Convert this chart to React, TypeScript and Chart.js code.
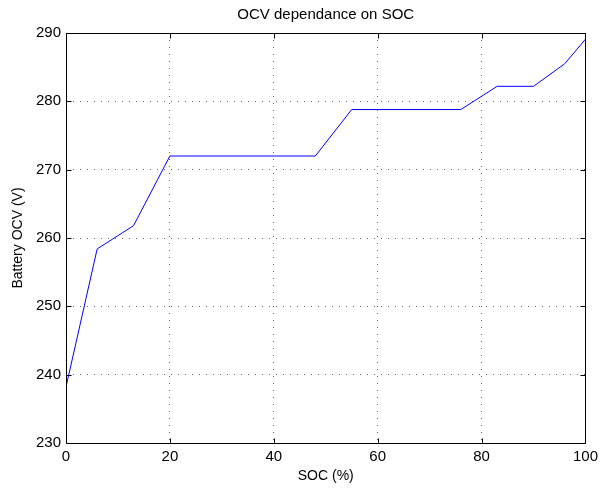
import React, { useEffect, useRef } from "react";
import { Chart, registerables } from "chart.js";

Chart.register(...registerables);

const socValues = [0, 6, 13, 20, 48, 55, 76, 83, 90, 96, 100];
const ocvValues = [238.2, 258.4, 261.8, 272.0, 272.0, 278.8, 278.8, 282.2, 282.2, 285.5, 289.1];
const xTicks = [0, 20, 40, 60, 80, 100];
const yTicks = [230, 240, 250, 260, 270, 280, 290];
const chartTitle = "OCV dependance on SOC";

const FONT = "'Liberation Sans', Arial, Helvetica, sans-serif";

const boxPlugin = {
  id: "matlabBox",
  afterDraw(chart: any) {
    const { ctx, chartArea } = chart;
    const { left, right, top, bottom } = chartArea;
    const xs = chart.scales.x;
    const ys = chart.scales.y;
    ctx.save();
    ctx.strokeStyle = "#000";
    ctx.lineWidth = 1;
    ctx.setLineDash([]);
    ctx.beginPath();
    const L = Math.round(left) + 0.5, R = Math.round(right) + 0.5, T = Math.round(top) + 0.5, B = Math.round(bottom) + 0.5;
    ctx.rect(L, T, R - L, B - T);
    const tl = 5;
    xTicks.forEach((v) => {
      const px = Math.round(xs.getPixelForValue(v)) + 0.5;
      ctx.moveTo(px, B); ctx.lineTo(px, B - tl);
      ctx.moveTo(px, T); ctx.lineTo(px, T + tl);
    });
    yTicks.forEach((v) => {
      const py = Math.round(ys.getPixelForValue(v)) + 0.5;
      ctx.moveTo(L, py); ctx.lineTo(L + tl, py);
      ctx.moveTo(R, py); ctx.lineTo(R - tl, py);
    });
    ctx.stroke();
    ctx.fillStyle = "#000";
    ctx.font = `15px ${FONT}`;
    ctx.textAlign = "center";
    ctx.textBaseline = "middle";
    ctx.fillText(chartTitle, (left + right) / 2, 15);
    ctx.restore();
  },
};

export default function App() {
  const ref = useRef<HTMLCanvasElement | null>(null);
  useEffect(() => {
    if (!ref.current) return;
    const gridColor = (edgeA: number, edgeB: number) => (c: any) =>
      c.tick && (c.tick.value === edgeA || c.tick.value === edgeB) ? "rgba(0,0,0,0)" : "rgba(0,0,0,0.6)";
    const chart = new Chart(ref.current, {
      type: "line",
      data: {
        datasets: [
          {
            data: socValues.map((x, i) => ({ x, y: ocvValues[i] })),
            borderColor: "#0000ff",
            borderWidth: 1,
            pointRadius: 0,
            fill: false,
            tension: 0,
          },
        ],
      },
      options: {
        animation: false,
        responsive: false,
        layout: { padding: { left: 0, right: 17, top: 33, bottom: 0 } },
        plugins: {
          legend: { display: false },
          tooltip: { enabled: false },
          title: { display: false },
        },
        scales: {
          x: {
            type: "linear",
            min: 0,
            max: 100,
            afterBuildTicks: (s: any) => { s.ticks = xTicks.map((v) => ({ value: v })); },
            afterFit: (s: any) => { s.height = 50; },
            ticks: { color: "#000", font: { family: FONT, size: 15 }, padding: 5, maxRotation: 0 },
            grid: { color: gridColor(0, 100), drawTicks: false, lineWidth: 1 },
            border: { display: false, dash: [1, 6] },
            title: { display: true, text: "SOC (%)", color: "#000", font: { family: FONT, size: 14 }, padding: { top: 4, bottom: 8 } },
          },
          y: {
            type: "linear",
            min: 230,
            max: 290,
            afterBuildTicks: (s: any) => { s.ticks = yTicks.map((v) => ({ value: v })); },
            afterFit: (s: any) => { s.width = 66; },
            ticks: { color: "#000", font: { family: FONT, size: 15 }, padding: 5 },
            grid: { color: gridColor(230, 290), drawTicks: false, lineWidth: 1 },
            border: { display: false, dash: [1, 6] },
            title: { display: true, text: "Battery OCV (V)", color: "#000", font: { family: FONT, size: 14 }, padding: { top: 10, bottom: 4 } },
          },
        },
      },
      plugins: [boxPlugin],
    });
    return () => chart.destroy();
  }, []);
  return (
    <div style={{ position: "fixed", left: 0, top: 0, width: 603, height: 493, background: "#fff" }}>
      <canvas ref={ref} width={603} height={493} style={{ display: "block" }} />
    </div>
  );
}
